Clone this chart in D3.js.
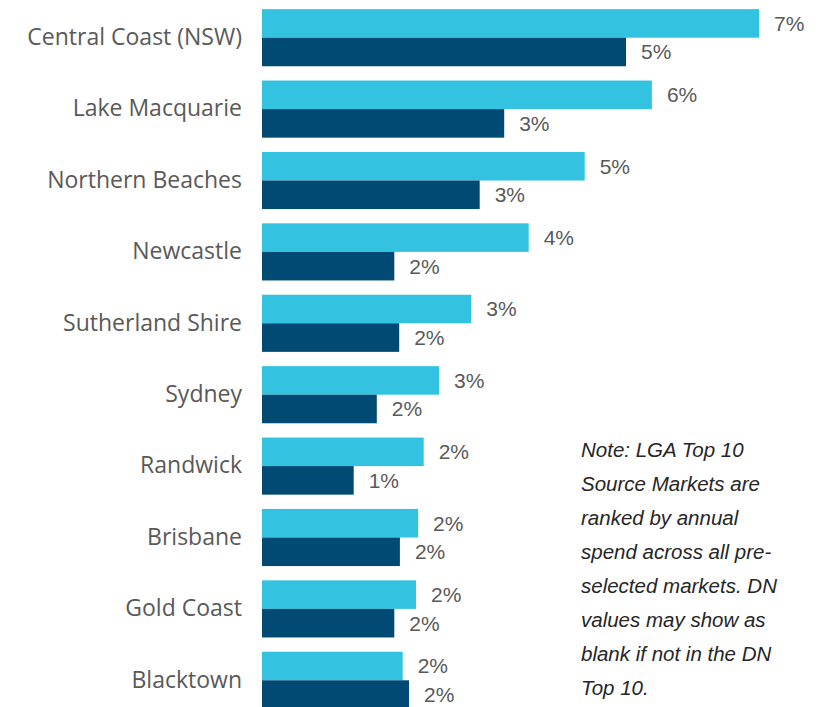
<!DOCTYPE html>
<html>
<head>
<meta charset="utf-8">
<script src="https://cdn.jsdelivr.net/npm/d3@7/dist/d3.min.js"></script>
<style>
  html, body { margin: 0; padding: 0; background: #ffffff; }
  svg { display: block; }
</style>
</head>
<body>
<svg id="chart" width="825" height="707"></svg>
<script>
// Top 10 LGA source markets: share of annual spend
const categories = [
  "Central Coast (NSW)", "Lake Macquarie", "Northern Beaches", "Newcastle",
  "Sutherland Shire", "Sydney", "Randwick", "Brisbane", "Gold Coast", "Blacktown"
];
const lgaShare = [0.0710, 0.0557, 0.0461, 0.0381, 0.0299, 0.0253, 0.0231, 0.0223, 0.0220, 0.0201];
const dnShare  = [0.0520, 0.0346, 0.0311, 0.0189, 0.0196, 0.0164, 0.0131, 0.0197, 0.0189, 0.0210];
const seriesNames = ["LGA", "DN"];
const noteLines = [
  "Note: LGA Top 10",
  "Source Markets are",
  "ranked by annual",
  "spend across all pre-",
  "selected markets. DN",
  "values may show as",
  "blank if not in the DN",
  "Top 10."
];

const colors = { LGA: "#33C3E0", DN: "#004A73" };
const fmt = d3.format(".0%");

const svg = d3.select("#chart");

const x = d3.scaleLinear().domain([0, 0.10]).range([262, 962]);
const y = d3.scaleBand().domain(categories).range([2, 716])
  .paddingInner(0.2).paddingOuter(0.1);
const ySub = d3.scaleBand().domain(seriesNames).range([0, y.bandwidth()]);

const rows = categories.map((c, i) => ({
  category: c,
  values: [
    { series: "LGA", value: lgaShare[i] },
    { series: "DN", value: dnShare[i] }
  ]
}));

// Category axis (labels only, no line or ticks)
const yAxis = d3.axisLeft(y).tickSize(0).tickPadding(20);
const gAxis = svg.append("g")
  .attr("transform", `translate(${x(0)},0)`)
  .call(yAxis);
gAxis.select(".domain").remove();
gAxis.selectAll("text")
  .attr("fill", "#595959")
  .style("font-family", "'Open Sans', 'Noto Sans', sans-serif")
  .style("font-size", "23px");

const groups = svg.append("g").selectAll("g")
  .data(rows)
  .join("g")
  .attr("transform", d => `translate(0,${y(d.category)})`);

groups.selectAll("rect")
  .data(d => d.values)
  .join("rect")
  .attr("x", x(0))
  .attr("y", d => ySub(d.series))
  .attr("width", d => x(d.value) - x(0))
  .attr("height", ySub.bandwidth())
  .attr("fill", d => colors[d.series]);

groups.selectAll("text.value")
  .data(d => d.values)
  .join("text")
  .attr("class", "value")
  .attr("x", d => x(d.value) + 15)
  .attr("y", d => ySub(d.series) + ySub.bandwidth() / 2)
  .attr("dy", "0.35em")
  .attr("fill", "#595959")
  .style("font-family", "Arial, 'Liberation Sans', sans-serif")
  .style("font-size", "21px")
  .text(d => fmt(d.value));

// Footnote
svg.append("text")
  .attr("x", 581)
  .attr("y", 457)
  .attr("fill", "#262626")
  .style("font-family", "Arial, 'Liberation Sans', sans-serif")
  .style("font-size", "20.5px")
  .style("font-style", "italic")
  .selectAll("tspan")
  .data(noteLines)
  .join("tspan")
  .attr("x", 581)
  .attr("dy", (d, i) => i === 0 ? 0 : 34)
  .text(d => d);
</script>
</body>
</html>
